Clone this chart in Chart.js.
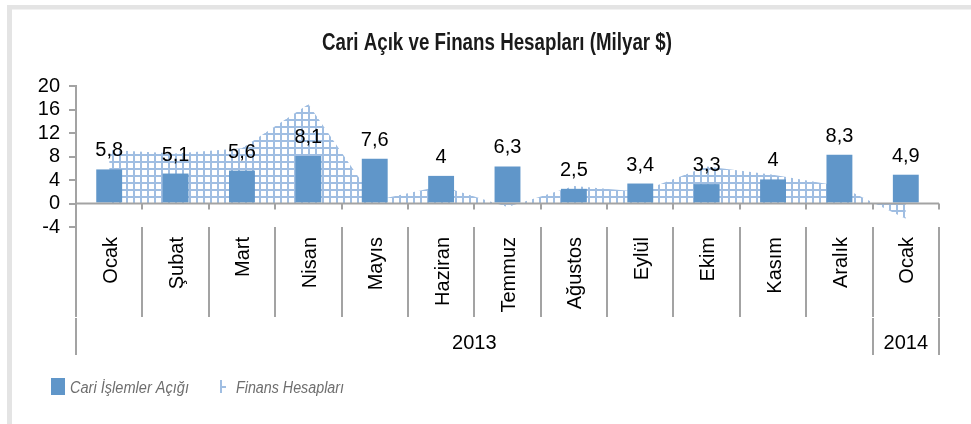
<!DOCTYPE html>
<html>
<head>
<meta charset="utf-8">
<script src="https://cdn.jsdelivr.net/npm/chart.js@4"></script>
<style>
  html, body { margin: 0; padding: 0; background: #fff; }
  #wrap { width: 971px; height: 424px; position: relative; }
</style>
</head>
<body>
<div id="wrap"><canvas id="chart" width="971" height="424"></canvas></div>
<script>
// data
const months = ['Ocak', 'Şubat', 'Mart', 'Nisan', 'Mayıs', 'Haziran', 'Temmuz', 'Ağustos', 'Eylül', 'Ekim', 'Kasım', 'Aralık', 'Ocak'];
const yearLabels = ['2013', '2014'];
const yearSpans = [12, 1];
const cariAcik = [5.8, 5.1, 5.6, 8.1, 7.6, 4.7, 6.3, 2.5, 3.4, 3.3, 4.1, 8.3, 4.9];
const cariLabels = ['5,8', '5,1', '5,6', '8,1', '7,6', '4', '6,3', '2,5', '3,4', '3,3', '4', '8,3', '4,9'];
const finans = [9.1, 8.5, 9.4, 16.9, 0.5, 3.0, -0.6, 3.0, 2.0, 6.3, 4.9, 3.0, -2.6];
const yMin = -4, yMax = 20, yStep = 4;

const BAR = '#6096c9';
const HATCH = '#a0bee2';
const AXIS = '#a3a3a3';
const FONT = '"Liberation Sans", Arial, sans-serif';

const canvas = document.getElementById('chart');
const ctx = canvas.getContext('2d');

function gridPattern() {
  const p = document.createElement('canvas');
  p.width = 7; p.height = 7;
  const g = p.getContext('2d');
  g.fillStyle = '#fff';
  g.fillRect(0, 0, 7, 7);
  g.fillStyle = HATCH;
  g.fillRect(0, 0, 2, 7);
  g.fillRect(0, 0, 7, 2);
  return ctx.createPattern(p, 'repeat');
}
const hatch = gridPattern();

const decor = {
  id: 'decor',
  beforeDraw(chart) {
    const c = chart.ctx;
    c.save();
    c.fillStyle = '#fff';
    c.fillRect(0, 0, chart.width, chart.height);
    c.fillStyle = '#e4e4e4';
    c.fillRect(7, 5, chart.width - 7, 4.5);
    c.fillRect(7, 5, 5, chart.height - 5);
    c.restore();
  },
  afterDatasetsDraw(chart) {
    const c = chart.ctx;
    const xs = chart.scales.x, ys = chart.scales.y;
    const area = chart.chartArea;
    const half = (xs.right - xs.left) / months.length / 2;
    const y0 = ys.getPixelForValue(0);

    c.save();
    c.strokeStyle = AXIS;
    c.lineWidth = 2;
    // axis at zero with short ticks
    c.beginPath();
    c.moveTo(area.left, y0);
    c.lineTo(area.right, y0);
    for (let i = 0; i <= months.length; i++) {
      const x = Math.round(xs.getPixelForValue(i) - half);
      c.moveTo(x, y0);
      c.lineTo(x, y0 + 6);
    }
    c.stroke();

    // bar value labels
    const meta = chart.getDatasetMeta(0);
    c.fillStyle = '#000';
    c.font = '20px ' + FONT;
    c.textAlign = 'center';
    c.textBaseline = 'alphabetic';
    meta.data.forEach((bar, i) => {
      c.fillText(cariLabels[i], bar.x, bar.y - 13);
    });
    c.restore();
  },
  afterDraw(chart) {
    const c = chart.ctx;
    const xs = chart.scales.x;
    const area = chart.chartArea;
    const half = (xs.right - xs.left) / months.length / 2;
    const sepTop = area.bottom, sepMid = 317, sepBot = 355;

    c.save();
    c.strokeStyle = AXIS;
    c.lineWidth = 2;
    c.beginPath();
    for (let i = 0; i <= months.length; i++) {
      const x = Math.round(xs.getPixelForValue(i) - half);
      c.moveTo(x, sepTop);
      c.lineTo(x, sepMid);
    }
    let k = 0;
    const yearEdges = [0];
    yearSpans.forEach(s => { k += s; yearEdges.push(k); });
    yearEdges.forEach(e => {
      const x = Math.round(xs.getPixelForValue(e) - half);
      c.moveTo(x, sepMid + 1);
      c.lineTo(x, sepBot);
    });
    c.stroke();

    // month labels, rotated
    c.fillStyle = '#000';
    c.font = '20px ' + FONT;
    c.textAlign = 'right';
    c.textBaseline = 'alphabetic';
    months.forEach((m, i) => {
      c.save();
      c.translate(xs.getPixelForValue(i) + 7.5, sepTop + 10);
      c.rotate(-Math.PI / 2);
      c.fillText(m, 0, 0);
      c.restore();
    });

    // year labels
    c.textAlign = 'center';
    yearLabels.forEach((yl, j) => {
      const a = xs.getPixelForValue(yearEdges[j]) - half;
      const b = xs.getPixelForValue(yearEdges[j + 1]) - half;
      c.fillText(yl, (a + b) / 2, 349);
    });

    // title
    c.font = 'bold 23px ' + FONT;
    c.fillStyle = '#1a1a1a';
    c.fillText('Cari Açık ve Finans Hesapları (Milyar $)', 497, 50, 350);

    // legend
    c.fillStyle = BAR;
    c.fillRect(51, 378, 14, 17);
    c.fillStyle = HATCH;
    c.fillRect(220, 380, 2, 13);
    c.fillRect(220, 386, 6, 2);
    c.fillStyle = '#6e6e6e';
    c.font = 'italic 16px ' + FONT;
    c.textAlign = 'left';
    c.fillText('Cari İşlemler Açığı', 70, 393, 119);
    c.fillText('Finans Hesapları', 236, 393, 108);
    c.restore();
  }
};

new Chart(canvas, {
  data: {
    labels: months,
    datasets: [
      {
        type: 'bar',
        label: 'Cari İşlemler Açığı',
        data: cariAcik,
        backgroundColor: BAR,
        borderWidth: 0,
        barPercentage: 0.39,
        categoryPercentage: 1,
        order: 1
      },
      {
        type: 'line',
        label: 'Finans Hesapları',
        data: finans,
        fill: 'origin',
        backgroundColor: hatch,
        borderWidth: 0,
        pointRadius: 0,
        tension: 0,
        order: 2
      }
    ]
  },
  options: {
    responsive: false,
    devicePixelRatio: 1,
    animation: false,
    layout: { padding: { left: 0, right: 32, top: 86, bottom: 197 } },
    plugins: {
      legend: { display: false },
      title: { display: false },
      tooltip: { enabled: false }
    },
    scales: {
      x: { display: false, offset: true },
      y: {
        min: yMin,
        max: yMax,
        afterFit: (s) => { s.width = 76; },
        ticks: {
          stepSize: yStep,
          autoSkip: false,
          color: '#000',
          font: { family: FONT, size: 20 },
          padding: 9
        },
        grid: {
          drawOnChartArea: false,
          drawTicks: true,
          tickLength: 7,
          color: AXIS,
          lineWidth: 2
        },
        border: { display: true, color: AXIS, width: 2 }
      }
    }
  },
  plugins: [decor]
});
</script>
</body>
</html>
